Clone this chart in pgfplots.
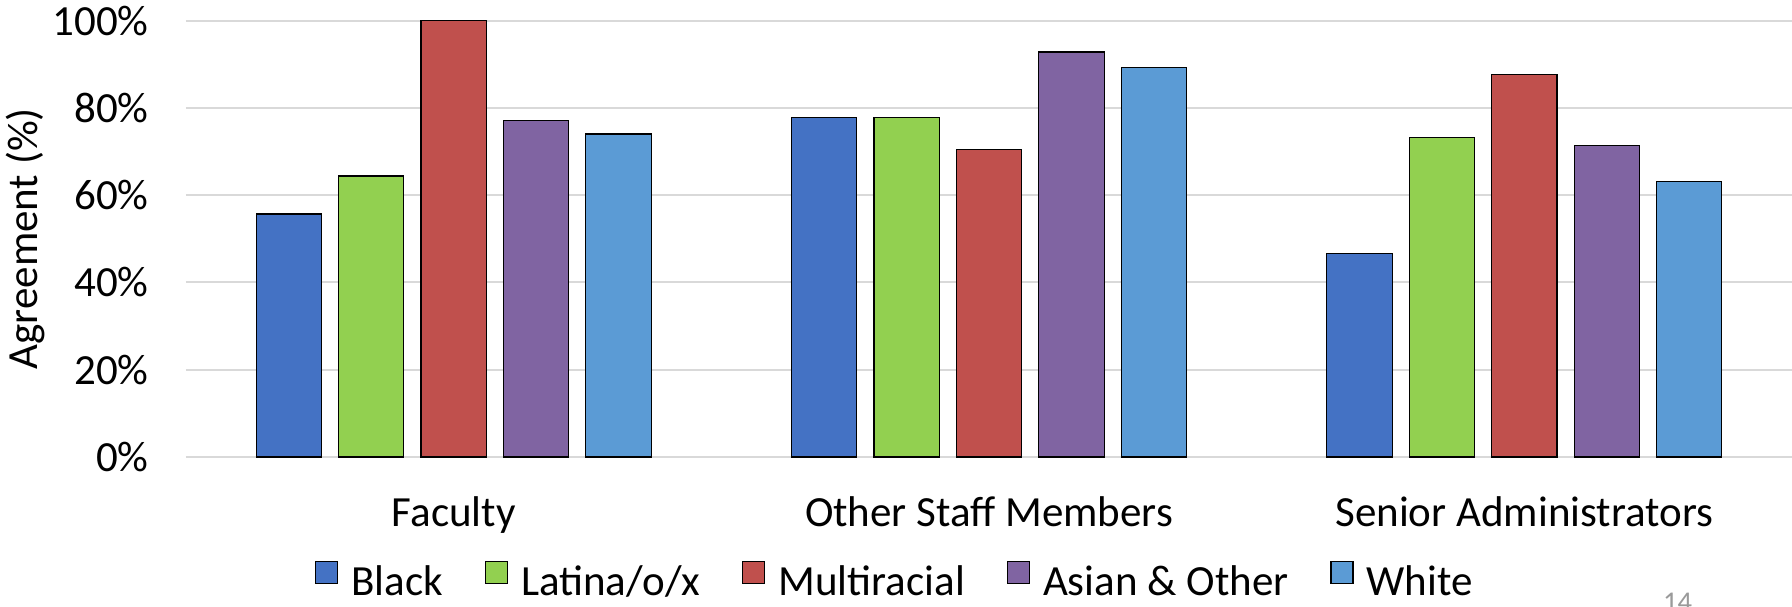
\documentclass[border=0pt]{standalone}
\usepackage{fontspec}
\setmainfont{Carlito}
\usepackage{pgfplots}
\pgfplotsset{compat=1.18}

\definecolor{cBlack}{HTML}{4472C4}
\definecolor{cLatina}{HTML}{92D050}
\definecolor{cMulti}{HTML}{C0504D}
\definecolor{cAsian}{HTML}{8064A2}
\definecolor{cWhite}{HTML}{5B9BD5}
\definecolor{gridgray}{HTML}{D9D9D9}
\definecolor{pagegray}{HTML}{9A9A9A}

\begin{document}
\begin{tikzpicture}[font=\fontsize{21.5pt}{25pt}\selectfont]
\useasboundingbox (0,0) rectangle (896pt,303pt);
\begin{axis}[
  at={(93pt,74.5pt)}, anchor=south west,
  scale only axis, width=803pt, height=218.2pt,
  xmin=-0.5, xmax=2.5, ymin=0, ymax=100,
  ybar, bar width=0.122,
  xtick={0,1,2},
  xticklabels={Faculty, Other Staff Members, Senior Administrators},
  ytick={0,20,40,60,80,100},
  yticklabels={0\%,20\%,40\%,60\%,80\%,100\%},
  xticklabel style={anchor=base, inner sep=0pt, yshift=-34.5pt},
  yticklabel style={anchor=east, inner sep=0pt, xshift=-18.5pt},
  major tick length=0pt,
  axis line style={draw=none},
  ymajorgrids, grid style={draw=gridgray, line width=1pt},
  every axis y label/.style={at={(axis description cs:-0.1002,0.5)}, rotate=90, anchor=center},
  ylabel={Agreement (\%)},
  legend columns=5,
  legend style={at={(axis description cs:0.4408,-0.2818)}, anchor=center, draw=none,
    fill=none, inner sep=0pt, nodes={inner sep=0pt},
    /tikz/every odd column/.append style={column sep=6.5pt},
    /tikz/every even column/.append style={column sep=21pt}},
  legend image code/.code={\draw[#1] (0pt,-0.5pt) rectangle (11pt,10.5pt);},
  every axis plot/.append style={draw=black, line width=0.6pt},
]
\addplot[fill=cBlack, bar shift=-0.308] coordinates {(0,55.7) (1,77.8) (2,46.7)};
\addplot[fill=cLatina, bar shift=-0.154] coordinates {(0,64.4) (1,77.8) (2,73.2)};
\addplot[fill=cMulti, bar shift=0] coordinates {(0,100) (1,70.5) (2,87.6)};
\addplot[fill=cAsian, bar shift=0.154] coordinates {(0,77.1) (1,92.8) (2,71.4)};
\addplot[fill=cWhite, bar shift=0.308] coordinates {(0,74.0) (1,89.2) (2,63.2)};
\legend{Black, Latina/o/x, Multiracial, Asian \& Other, White}
\end{axis}
% slide page number, partly below the lower edge
\node[anchor=north, inner sep=0pt, text=pagegray, font=\fontsize{14.3pt}{17pt}\selectfont] at (838.8pt,6.5pt) {14};
\end{tikzpicture}
\end{document}
